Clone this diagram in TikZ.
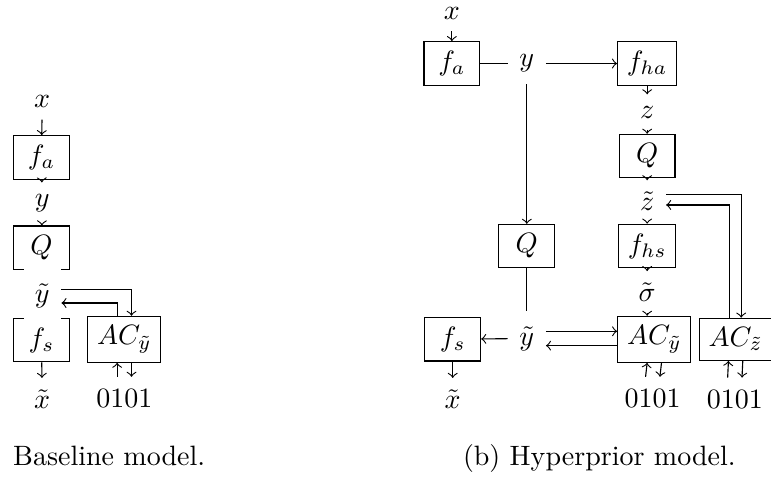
\documentclass[tikz,border=0pt]{standalone}
\usepackage{amsmath}
\usetikzlibrary{positioning,calc}

\begin{document}
\begin{tikzpicture}[
    x=1mm, y=1mm,
    box/.style     = {draw, minimum width=7mm},
    var/.style     = {fill=white, inner xsep=4pt, inner ysep=4pt},
    vartall/.style = {var, minimum height=19.5pt},
    arrow/.style   = {->},
    caption/.style = {anchor=base},
  ]
  \useasboundingbox (0,0) rectangle (96.74,59.97);

  %% Left: baseline model (one column, coder to the right)
  \node[var] (ax)    at ( 5.3,47.2) {$x$};
  \node[box] (afa)   at ( 5.2,40.2) {$f_a$};
  \node[var] (ay)    at ( 5.3,34.5) {$y$};
  \node[box] (aq)    at ( 5.2,28.9) {$Q$};
  \node[box] (afs)   at ( 5.2,17.3) {$f_s$};
  %% y-tilde is set after Q and f_s: its fill cuts their edges
  \node[vartall] (ayt) at ( 5.3,22.8) {$\tilde{y}$};
  \node[box] (aac)   at (15.6,17.4) {$AC_{\tilde{y}}$};
  \node[var] (axt)   at ( 5.3, 9.9) {$\tilde{x}$};
  \node[var] (abits) at (15.6,10.0) {0101};

  %% Right: hyperprior model
  %% Row 1: analysis transforms (y = 52)
  \node[var] (x)     at (56.7,58.3) {$x$};
  \node[box] (fa)    at (56.7,52.0) {$f_a$};
  \node[var] (y)     at (66.1,52.0) {$y$};
  \node[box] (fha)   at (81.2,52.0) {$f_{ha}$};

  %% Hyper column (x = 81.2)
  \node[var] (z)     at (81.2,45.9) {$z$};
  \node[box] (q2)    at (81.2,40.4) {$Q$};
  \node[var] (zt)    at (81.2,34.7) {$\tilde{z}$};
  \node[box] (fhs)   at (81.2,29.1) {$f_{hs}$};
  \node[var] (st)    at (81.2,23.3) {$\tilde{\sigma}$};

  %% Main column (x = 66.1)
  \node[box] (q1)    at (66.1,29.1) {$Q$};

  %% Bottom row: synthesis and coders (y = 17.4)
  \node[box] (fs)    at (56.8,17.4) {$f_s$};
  \node[vartall] (yt) at (66.1,17.5) {$\tilde{y}$};
  \node[box] (acy)   at (82.1,17.4) {$AC_{\tilde{y}}$};
  \node[box] (acz)   at (92.3,17.4) {$AC_{\tilde{z}}$};
  \node[var] (xt)    at (56.8, 9.9) {$\tilde{x}$};
  \node[var] (bitsy) at (81.9,10.0) {0101};
  \node[var] (bitsz) at (92.2, 9.9) {0101};

  %% Captions
  \node[caption] (capa) at (13.7,1.6) {Baseline model.};
  \node[caption] (capb) at (75.2,1.6) {(b) Hyperprior model.};

  %% Baseline connectors
  \draw[arrow] (ax)  -- (afa);
  \draw[arrow] (afa) -- (ay);
  \draw[arrow] (ay)  -- (aq);
  \draw[arrow] (afs) -- (axt);
  \draw[arrow] ([yshift= 0.85mm]ayt.east) -| ([xshift= 0.9mm]aac.north);
  \draw[arrow] ([xshift=-0.9mm]aac.north) |- ([yshift=-0.85mm]ayt.east);
  \draw[arrow] ([xshift=-0.9mm]abits.north) -- ([xshift=-0.9mm]aac.south);
  \draw[arrow] ([xshift= 0.9mm]aac.south)   -- ([xshift= 0.9mm]abits.north);

  %% Hyperprior: main path
  \draw[arrow] (x)  -- (fa);
  \draw        (fa) -- (y);
  \draw[arrow] (y)  -- (fha);
  \draw[arrow] (y)  -- (q1);
  \draw        (q1) -- (yt);
  \draw[arrow] (yt) -- (fs);
  \draw[arrow] (fs) -- (xt);
  \draw[arrow] ([yshift= 0.9mm]yt.east) -- ([yshift= 0.9mm]yt.east -| acy.west);
  \draw[arrow] ([yshift=-0.9mm]yt.east -| acy.west) -- ([yshift=-0.9mm]yt.east);

  %% Hyperprior: side path
  \draw[arrow] (fha) -- (z);
  \draw[arrow] (z)   -- (q2);
  \draw[arrow] (q2)  -- (zt);
  \draw[arrow] (zt)  -- (fhs);
  \draw[arrow] (fhs) -- (st);
  \draw[arrow] (st)  -- (st |- acy.north);
  \draw[arrow] ([yshift= 0.85mm]zt.east) -| ([xshift= 0.7mm]acz.north);
  \draw[arrow] ([xshift=-0.8mm]acz.north) |- ([yshift=-0.45mm]zt.east);

  %% Coders <-> bit streams
  \draw[arrow] ([xshift=-0.9mm]bitsy.north) -- ([xshift=-0.9mm]acy.south);
  \draw[arrow] ([xshift= 0.9mm]acy.south)   -- ([xshift= 0.9mm]bitsy.north);
  \draw[arrow] ([xshift=-0.9mm]bitsz.north) -- ([xshift=-0.9mm]acz.south);
  \draw[arrow] ([xshift= 0.9mm]acz.south)   -- ([xshift= 0.9mm]bitsz.north);

\end{tikzpicture}
\end{document}
